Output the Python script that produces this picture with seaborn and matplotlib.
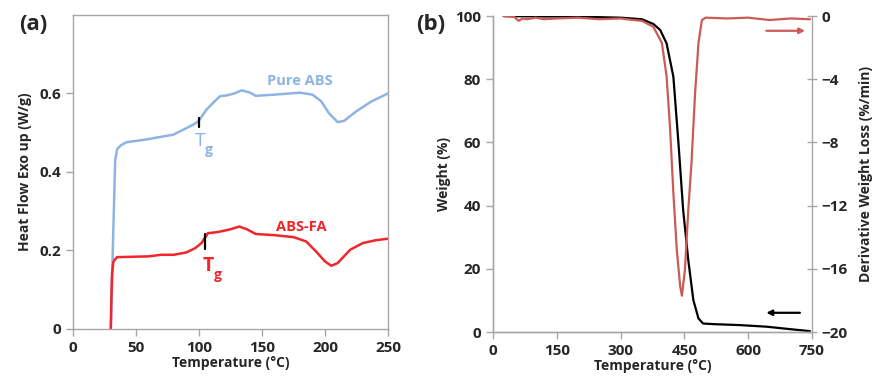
import numpy as np
import pandas as pd
import matplotlib
matplotlib.use("Agg")
import matplotlib.pyplot as plt
import seaborn as sns

# ---- Panel (a): DSC ----
pure_T = [30, 32, 33.5, 35, 38, 42.6, 50, 58.5, 69, 79.6, 90.2, 95, 99.5, 106, 112.7, 116.7, 122,
          128, 133.9, 140.5, 145, 160, 180, 190, 197, 203, 210, 215, 225, 237, 250]
pure_HF = [0.0, 0.25, 0.43, 0.458, 0.468, 0.476, 0.479, 0.483, 0.489, 0.495, 0.512, 0.52, 0.529,
           0.559, 0.581, 0.593, 0.595, 0.600, 0.608, 0.602, 0.594, 0.597, 0.602, 0.597, 0.58, 0.55,
           0.527, 0.53, 0.555, 0.58, 0.600]
fa_T = [30, 30.5, 31, 32, 33, 35, 60, 70, 80, 90, 97, 102, 107, 115, 125, 132, 138, 145, 160, 175, 185,
        193, 200, 205, 210, 220, 230, 240, 250]
fa_HF = [0.0, 0.08, 0.14, 0.17, 0.176, 0.183, 0.185, 0.189, 0.189, 0.195, 0.206, 0.219, 0.244, 0.247,
         0.254, 0.261, 0.254, 0.242, 0.239, 0.234, 0.223, 0.197, 0.172, 0.161, 0.168, 0.202, 0.219,
         0.226, 0.230]
a_xticks = [0, 50, 100, 150, 200, 250]
a_yticks = [0, 0.2, 0.4, 0.6]
a_yticklabels = ["0", "0.2", "0.4", "0.6"]

# ---- Panel (b): TGA / DTG ----
tga_T = [25, 100, 200, 300, 350, 377, 393, 408, 424, 436, 447, 459, 471, 483, 494, 520, 581, 643,
         700, 745]
tga_W = [100, 99.9, 99.8, 99.5, 99, 97.5, 95.6, 91.4, 80.8, 59.7, 38.6, 22.8, 10.1, 4.3, 2.7, 2.5,
         2.2, 1.7, 0.9, 0.3]
dtg_T = [25, 50, 60, 70, 80, 100, 120, 150, 200, 250, 300, 330, 350, 377, 397, 408, 416, 424, 432,
         440, 444, 451, 459, 467, 475, 483, 491, 500, 550, 600, 650, 700, 745]
dtg_D = [0.0, -0.05, -0.3, -0.15, -0.2, -0.1, -0.2, -0.15, -0.1, -0.2, -0.15, -0.25, -0.3, -0.68,
         -1.7, -3.8, -7.0, -11.2, -14.8, -17.1, -17.7, -16.1, -12.3, -9.1, -4.9, -1.7, -0.25, -0.1,
         -0.15, -0.1, -0.25, -0.15, -0.2]
b_xticks = [0, 150, 300, 450, 600, 750]
b_yticks = [0, 20, 40, 60, 80, 100]
b_y2ticks = [0, -4, -8, -12, -16, -20]

blue = "#8db4e2"
red_a = "#f0262a"
red_b = "#cc5a57"
spine_c = "#a6a6a6"

sns.set_style("white")
plt.rcParams["font.family"] = ["Open Sans", "DejaVu Sans"]
plt.rcParams["font.weight"] = "bold"

fig = plt.figure(figsize=(8.76, 3.83), dpi=100)
ax1 = fig.add_axes([0.0833, 0.141, 0.443 - 0.0833, 0.961 - 0.141])
ax2 = fig.add_axes([0.5628, 0.133, 0.927 - 0.5628, 0.958 - 0.133])

fs_tick = 11
fs_lab = 10

# Panel a
sns.lineplot(x=pure_T, y=pure_HF, ax=ax1, color=blue, lw=1.8, sort=False)
sns.lineplot(x=fa_T, y=fa_HF, ax=ax1, color=red_a, lw=1.8, sort=False)
ax1.plot([99.8, 99.8], [0.515, 0.537], color="black", lw=1.6)
ax1.plot([105, 105], [0.203, 0.242], color="black", lw=1.6)
ax1.text(101.3, 0.466, "T", color=blue, fontsize=14, ha="center", va="baseline", fontweight="normal")
ax1.text(107.5, 0.447, "g", color=blue, fontsize=10, ha="center", va="baseline", fontweight="bold")
ax1.text(107.7, 0.147, "T", color=red_a, fontsize=14, ha="center", va="baseline", fontweight="bold")
ax1.text(115, 0.127, "g", color=red_a, fontsize=10, ha="center", va="baseline", fontweight="bold")
ax1.text(180, 0.632, "Pure ABS", color=blue, fontsize=10.5, ha="center", va="center", fontweight="bold")
ax1.text(181, 0.259, "ABS-FA", color=red_a, fontsize=10.5, ha="center", va="center", fontweight="bold")
ax1.set_xlim(0, 250)
ax1.set_ylim(0, 0.8)
ax1.set_xticks(a_xticks)
ax1.set_yticks(a_yticks)
ax1.set_yticklabels(a_yticklabels)
ax1.set_xlabel("Temperature (°C)", fontsize=fs_lab, fontweight="bold", labelpad=1)
ax1.set_ylabel("Heat Flow Exo up (W/g)", fontsize=fs_lab, fontweight="bold", labelpad=5)
for s in ax1.spines.values():
    s.set_visible(True)
    s.set_color(spine_c)
    s.set_linewidth(1.0)
ax1.tick_params(axis="both", which="both", direction="out", length=5, width=1, color=spine_c,
                labelsize=fs_tick, bottom=True, left=True)
for lab in ax1.get_xticklabels() + ax1.get_yticklabels():
    lab.set_fontweight("bold")

# Panel b
sns.lineplot(x=tga_T, y=tga_W, ax=ax2, color="black", lw=1.6, sort=False)
ax2.set_xlim(0, 750)
ax2.set_ylim(0, 100)
ax2.set_xticks(b_xticks)
ax2.set_yticks(b_yticks)
ax2.set_xlabel("Temperature (°C)", fontsize=fs_lab, fontweight="bold", labelpad=1)
ax2.set_ylabel("Weight (%)", fontsize=fs_lab, fontweight="bold", labelpad=3)
ax2.annotate("", xy=(636, 6.1), xytext=(728, 6.1),
             arrowprops=dict(arrowstyle="-|>", color="black", lw=1.6, mutation_scale=8))
ax3 = ax2.twinx()
sns.lineplot(x=dtg_T, y=dtg_D, ax=ax3, color=red_b, lw=1.6, sort=False)
ax3.set_ylim(-20, 0)
ax3.set_yticks(b_y2ticks)
ax3.set_ylabel("Derivative Weight Loss (%/min)", fontsize=fs_lab, fontweight="bold", labelpad=8)
ax3.annotate("", xy=(740, -0.93), xytext=(636, -0.93),
             arrowprops=dict(arrowstyle="-|>", color=red_b, lw=1.6, mutation_scale=8))
for ax in (ax2, ax3):
    for k, s in ax.spines.items():
        s.set_color(spine_c)
        s.set_linewidth(1.0)
    ax.spines["top"].set_visible(False)
ax2.spines["right"].set_visible(False)
ax2.tick_params(axis="both", direction="out", length=5, width=1, color=spine_c, labelsize=fs_tick,
                bottom=True, left=True)
ax3.tick_params(axis="y", direction="inout", length=7, width=1, color=spine_c, labelsize=fs_tick, right=True)
for lab in ax2.get_xticklabels() + ax2.get_yticklabels() + ax3.get_yticklabels():
    lab.set_fontweight("bold")

fig.text(0.022, 0.935, "(a)", fontsize=16, fontweight="bold", va="center", ha="left")
fig.text(0.475, 0.935, "(b)", fontsize=16, fontweight="bold", va="center", ha="left")

fig.savefig("out.png", dpi=100)
